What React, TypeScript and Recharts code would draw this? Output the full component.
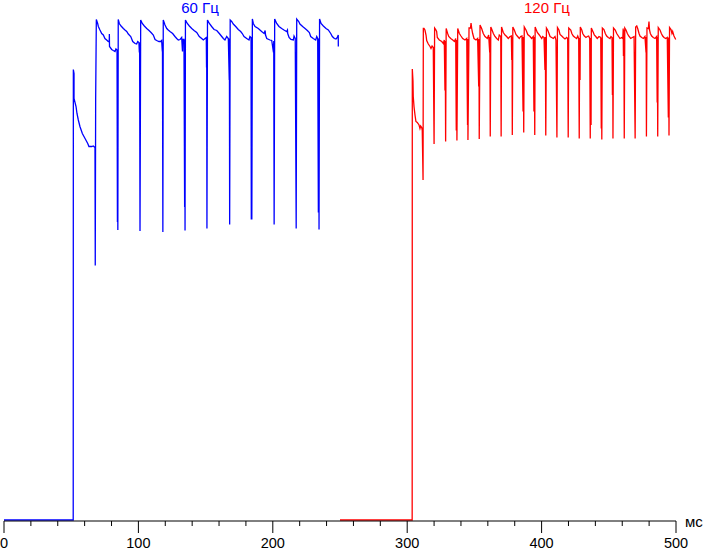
import { LineChart, Line, XAxis, YAxis } from "recharts";

// time in ms, level in arbitrary units (0 = dark, ~100 = full brightness)
const blue60: [number, number][] = [
  [0, 0.2], [51.5, 0.2],
  [51.6, 90.3], [52.1, 89.5], [52.1, 84.5], [53.6, 82.9], [54.3, 81.5], [55.3, 80.2],
  [56.5, 78.9], [58.3, 77.5], [60.3, 76.5], [62.3, 75.5], [63.2, 74.9], [65.3, 74.9],
  [66.4, 75.0], [67.7, 74.7], [67.9, 51.1], [68.2, 84.5], [68.7, 100.3],
  // cycle 1
  [69.7, 99.5], [70.2, 98.9], [71.4, 98.2], [72.7, 97.5], [73.9, 97.2], [75.1, 96.5],
  [76.4, 96.2], [77.6, 95.9], [78.3, 95.9], [78.4, 97.4], [78.5, 94.9], [80.1, 94.3],
  [81.3, 94.1], [82.6, 93.9], [83.3, 94.4], [84.1, 94.2], [84.4, 59.8], [84.5, 94.2],
  [84.7, 58.2], [85.0, 100.3],
  // cycle 2
  [85.8, 99.5], [87.1, 99.0], [88.8, 98.5], [90.0, 98.2], [91.3, 97.9], [92.5, 97.4],
  [94.3, 96.9], [95.8, 95.9], [97.5, 95.5], [98.7, 95.4], [99.5, 95.9], [100.4, 95.7],
  [100.7, 93.7], [100.9, 95.7], [101.2, 58.0], [101.7, 100.2],
  // cycle 3
  [102.9, 99.5], [104.4, 99.0], [106.2, 98.5], [107.9, 98.1], [109.4, 97.7], [111.1, 97.2],
  [112.4, 96.3], [113.6, 96.1], [115.3, 95.9], [116.6, 95.9], [117.3, 96.1], [117.8, 93.9],
  [117.9, 95.7], [118.2, 57.8], [118.5, 100.2],
  // cycle 4
  [119.8, 99.2], [121.1, 98.5], [122.2, 98.2], [123.5, 97.9], [125.5, 97.5], [127.2, 96.9],
  [128.5, 96.5], [129.7, 96.2], [131.0, 96.3], [132.2, 96.7], [132.8, 93.9], [133.0, 96.3],
  [133.9, 96.3], [134.4, 62.8], [134.5, 96.2], [134.7, 58.1], [135.0, 100.2],
  // cycle 5
  [136.4, 99.5], [137.9, 99.0], [139.7, 98.5], [141.4, 98.1], [143.4, 97.7], [145.3, 96.9],
  [147.1, 96.5], [148.3, 96.2], [149.6, 96.5], [150.5, 96.7], [150.7, 90.7], [150.8, 96.6],
  [151.0, 58.5], [151.4, 100.2],
  // cycle 6
  [152.8, 99.5], [154.5, 98.9], [156.3, 98.3], [158.3, 98.1], [160.2, 97.5], [162.0, 96.9],
  [163.2, 96.5], [164.4, 96.2], [165.7, 96.9], [166.9, 96.5], [167.6, 88.2], [167.7, 96.5],
  [167.9, 59.3], [168.3, 100.2],
  // cycle 7
  [169.4, 99.9], [170.6, 99.4], [172.4, 98.9], [174.3, 98.3], [176.1, 97.9], [177.3, 97.5],
  [178.6, 96.9], [180.6, 96.5], [182.3, 96.2], [183.0, 96.9], [183.8, 96.7], [184.0, 60.3],
  [184.2, 96.7], [184.4, 60.3], [184.8, 100.4],
  // cycle 8
  [185.5, 99.5], [186.8, 98.9], [189.2, 98.5], [191.7, 97.9], [193.5, 97.5], [194.3, 98.1],
  [194.6, 97.2], [195.5, 96.5], [197.9, 96.2], [199.2, 96.1], [200.5, 93.7], [200.7, 96.0],
  [201.0, 59.3], [201.4, 100.4],
  // cycle 9
  [202.9, 99.5], [204.6, 98.9], [206.6, 98.5], [208.3, 98.2], [210.3, 97.9], [210.9, 98.2],
  [211.1, 97.5], [212.1, 96.7], [213.5, 96.3], [215.3, 96.2], [215.8, 97.0], [216.7, 96.5],
  [217.4, 58.5], [217.8, 100.4],
  // cycle 10
  [219.3, 99.9], [220.2, 99.4], [222.2, 98.9], [224.0, 98.5], [225.7, 98.1], [227.2, 97.7],
  [228.2, 96.9], [230.1, 96.5], [231.9, 96.2], [232.7, 96.9], [233.4, 96.5], [233.9, 61.7],
  [234.1, 96.5], [234.4, 58.3], [234.8, 100.4],
  // cycle 11
  [235.9, 99.5], [237.6, 99.0], [239.6, 98.5], [241.3, 98.2], [243.1, 97.5], [244.3, 96.9],
  [245.8, 96.5], [247.0, 96.4], [248.0, 96.7], [248.7, 97.2], [248.75, 94.9],
];

const red120: [number, number][] = [
  [250.0, 0.2], [303.7, 0.2],
  [303.8, 90.4], [304.3, 88.0], [304.5, 84.9], [305.1, 82.8], [305.8, 81.2], [306.5, 79.9],
  [307.5, 79.7], [308.8, 79.2], [309.5, 78.5], [310.0, 79.0], [310.8, 78.7], [311.2, 78.1],
  [311.8, 68.2], [312.0, 98.5],
  [312.5, 98.5], [313.2, 98.2], [314.0, 97.2], [314.5, 96.1], [315.7, 95.4], [317.0, 94.9],
  [317.7, 94.5], [318.5, 95.0], [319.4, 94.7], [320.0, 75.4], [320.4, 98.6],
  [321.2, 98.3], [321.9, 97.9], [322.4, 96.7], [323.9, 96.2], [325.7, 95.9], [326.9, 95.5],
  [327.6, 96.2], [328.1, 86.1], [328.3, 96.0], [328.6, 75.9], [329.0, 98.5],
  [330.1, 97.5], [330.9, 96.9], [332.4, 96.5], [333.9, 96.2], [335.1, 95.9], [336.1, 96.5],
  [336.5, 78.1], [336.7, 96.2], [337.0, 76.1], [337.6, 98.5],
  [338.8, 97.5], [340.0, 97.0], [341.3, 96.5], [343.0, 96.2], [344.3, 96.5], [344.9, 79.2],
  [345.1, 96.4], [345.2, 76.2], [346.0, 98.6], [347.1, 98.6], [347.5, 99.6], [348.0, 98.5],
  [348.7, 97.5], [349.7, 96.5], [351.2, 96.2], [352.4, 96.5], [353.2, 86.9], [353.4, 96.4],
  [353.6, 76.4], [354.2, 99.2],
  [355.4, 98.5], [356.6, 97.5], [357.9, 96.9], [359.6, 96.5], [360.6, 97.2], [361.4, 93.7],
  [361.5, 96.8], [361.8, 76.9], [362.2, 98.8],
  [362.7, 98.5], [364.1, 97.5], [365.3, 96.9], [366.6, 96.5], [367.8, 96.2], [368.5, 97.2],
  [369.6, 96.9], [369.9, 76.9], [370.2, 98.8],
  [371.5, 97.7], [372.8, 97.2], [374.0, 96.9], [375.2, 96.5], [376.5, 96.9], [377.5, 97.0],
  [377.8, 92.2], [378.0, 96.8], [378.2, 77.2], [378.6, 98.8],
  [379.7, 98.2], [380.9, 97.3], [382.2, 96.9], [383.4, 96.5], [384.4, 96.9], [385.4, 97.0],
  [386.2, 81.9], [386.4, 96.8], [386.7, 77.7], [387.1, 98.8],
  [388.4, 98.2], [389.7, 97.3], [391.4, 96.9], [392.6, 96.5], [393.8, 96.9], [394.3, 81.9],
  [394.6, 96.8], [394.9, 77.2], [395.2, 98.8],
  [396.8, 97.7], [398.3, 97.2], [400.1, 96.5], [400.8, 96.9], [401.8, 96.7], [402.5, 90.2],
  [402.8, 96.8], [403.1, 77.1], [403.6, 98.6],
  [404.5, 98.2], [405.5, 97.5], [406.3, 96.9], [407.5, 96.7], [408.7, 96.5], [410.0, 96.9],
  [410.7, 96.2], [411.4, 76.7], [411.8, 98.7],
  [412.9, 98.2], [413.7, 97.3], [415.0, 97.0], [416.1, 96.7], [417.4, 96.4], [418.7, 96.7],
  [419.4, 96.5], [419.8, 76.7], [420.2, 98.6],
  [421.7, 98.2], [422.5, 97.5], [423.6, 97.0], [424.9, 96.7], [426.1, 96.5], [426.9, 97.0],
  [427.6, 96.5], [428.0, 76.5], [428.3, 96.6], [428.6, 88.2], [428.8, 98.8],
  [429.9, 98.2], [430.6, 97.5], [431.8, 97.0], [433.0, 96.7], [434.0, 96.9], [435.0, 97.0],
  [435.8, 96.5], [436.2, 76.5], [436.5, 96.6], [436.8, 79.2], [437.0, 98.6],
  [438.5, 97.7], [439.2, 97.2], [440.3, 96.9], [441.4, 96.5], [442.7, 96.9], [444.0, 96.7],
  [444.4, 78.5], [444.5, 96.6], [444.8, 76.3], [445.2, 98.6],
  [446.4, 98.3], [447.4, 97.5], [448.4, 97.0], [449.6, 96.7], [450.9, 96.5], [451.6, 96.9],
  [452.4, 96.7], [452.7, 85.2], [452.9, 96.7], [453.1, 76.5], [453.5, 98.6],
  [454.8, 98.2], [455.9, 97.5], [457.1, 97.0], [458.3, 96.5], [459.6, 96.7], [460.4, 96.5],
  [460.7, 98.5], [460.9, 93.0], [461.2, 98.2], [461.5, 76.5], [461.9, 98.6],
  [462.8, 98.2], [463.8, 97.5], [464.8, 97.0], [466.3, 96.5], [467.5, 96.7], [468.8, 96.9],
  [469.6, 76.5], [470.0, 98.8],
  [470.8, 99.0], [471.5, 98.5], [472.5, 97.5], [473.2, 97.0], [474.5, 96.7], [475.7, 96.5],
  [476.9, 96.9], [477.7, 93.7], [477.8, 96.8], [478.0, 76.9], [478.4, 98.6],
  [479.4, 98.5], [479.9, 99.9], [480.3, 98.2], [480.9, 97.5], [481.9, 97.0], [483.1, 96.7],
  [484.4, 96.5], [485.6, 96.9], [486.0, 83.7], [486.1, 96.8], [486.4, 76.9], [486.8, 98.7],
  [488.1, 98.2], [489.1, 97.5], [490.1, 97.0], [491.1, 96.7], [492.3, 96.5], [493.5, 96.7],
  [494.3, 80.7], [494.5, 96.7], [494.8, 77.1], [495.2, 98.7],
  [496.3, 98.3], [497.0, 97.5], [497.5, 97.9], [498.5, 97.0], [499.8, 96.3],
];

const xTicks = [0, 20, 40, 60, 80, 100, 120, 140, 160, 180, 200, 220, 240, 260, 280, 300, 320, 340, 360, 380, 400, 420, 440, 460, 480, 500];
const xUnit = "мс";
const titles = [
  { text: "60 Гц", color: "#0000ff", x: 200 },
  { text: "120 Гц", color: "#ff0000", x: 547 },
];

const font = "'Liberation Sans', Arial, sans-serif";

const toRows = (pts: [number, number][]) => pts.map(([t, v]) => ({ t, v }));

function AxisTick(props: any) {
  const { x, y, payload } = props;
  const major = payload.value % 100 === 0;
  return (
    <g>
      <line x1={x} x2={x} y1={y} y2={y + (major ? 12 : 5)} stroke="#000" />
      {major && (
        <text x={x} y={y + 27} textAnchor="middle" fontSize={14.5} fontFamily={font} fill="#000">
          {payload.value}
        </text>
      )}
    </g>
  );
}

export default function App() {
  return (
    <div style={{ position: "absolute", left: 0, top: 0, width: 703, height: 549, background: "#fff" }}>
      <LineChart width={703} height={549} margin={{ top: 1, right: 27, bottom: 0, left: 4 }}>
        <XAxis
          type="number"
          dataKey="t"
          domain={[0, 500]}
          ticks={xTicks}
          interval={0}
          height={28}
          tickSize={0}
          tickMargin={0}
          tickLine={false}
          tick={<AxisTick />}
          axisLine={{ stroke: "#000" }}
          label={{
            content: (p: any) => (
              <text
                x={p.viewBox.x + p.viewBox.width + 9}
                y={p.viewBox.y + 6}
                fontSize={15}
                fontFamily={font}
                fill="#000"
              >
                {xUnit}
              </text>
            ),
          }}
        />
        <YAxis hide type="number" domain={[0, 104]} allowDataOverflow />
        <Line
          data={toRows(blue60)}
          dataKey="v"
          type="linear"
          stroke="#0000ff"
          strokeWidth={1.3}
          dot={false}
          isAnimationActive={false}
        />
        <Line
          data={toRows(red120)}
          dataKey="v"
          type="linear"
          stroke="#ff0000"
          strokeWidth={1.3}
          dot={false}
          isAnimationActive={false}
        />
      </LineChart>
      <svg width={703} height={20} style={{ position: "absolute", left: 0, top: 0 }}>
        {titles.map((tl) => (
          <text key={tl.text} x={tl.x} y={12.5} textAnchor="middle" fontSize={15} fontFamily={font} fill={tl.color}>
            {tl.text}
          </text>
        ))}
      </svg>
    </div>
  );
}
